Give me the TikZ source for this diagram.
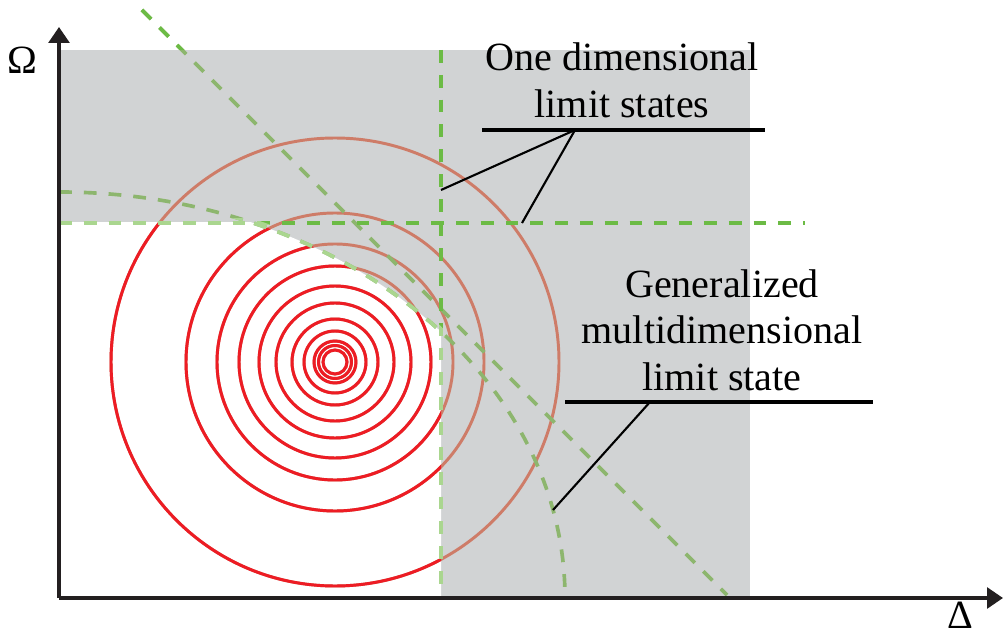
\documentclass[tikz,border=0pt]{standalone}
\usepackage{fontspec}
\setmainfont{Liberation Serif}
\usepackage{tikz}
\usetikzlibrary{arrows.meta,positioning,calc}
\definecolor{axisblack}{HTML}{231F20}
\definecolor{zonegray}{HTML}{D1D3D4}
\definecolor{ringred}{HTML}{ED1C24}
\definecolor{ringshade}{HTML}{CE7C68}
\definecolor{limgreen}{HTML}{6CBB45}
\definecolor{limpale}{HTML}{AAD68F}
\definecolor{limdull}{HTML}{8DB66E}
\tikzset{
  % Axes
  axis/.style={draw=axisblack,line width=2.5pt,
               -{Triangle[length=0.4cm,width=0.52cm]}},
  % Density rings
  isoline/.style={draw=ringred,line width=2.1pt},
  % Limit state lines
  lim/.style={draw=limgreen,line width=2.6pt,dash pattern=on 0.32cm off 0.3cm},
  limdim/.style={lim,draw=limdull},
  limlight/.style={lim,draw=limpale},
  % Leaders & labels
  rule/.style={draw=black,line width=2.3pt},
  leader/.style={draw=black,line width=1.5pt},
  lbl/.style={font=\fontsize{28.5}{33}\selectfont,inner sep=0pt,align=center}
}

\begin{document}
\begin{tikzpicture}[x=0.025cm,y=-0.025cm]
  \useasboundingbox (0,0) rectangle (1003,635);
  \coordinate (origin) at (59,598);
  \coordinate (centre) at (335,362);

  % Failure zone, safe corner cut out
  \fill[zonegray] (59,50) rectangle (750,598);
  \begin{scope}
    \clip (59,223) rectangle (441,598);
    \fill[white] (origin) ellipse[x radius=506,y radius=406];
  \end{scope}

  % Density rings (shaded where they lie in the failure zone)
  \foreach \r in {12,16.5,21,31,43,59,76,96,118,149,224}
    \draw[isoline,draw=ringshade] (centre) circle[radius=\r];
  \begin{scope}
    \clip (59,223) rectangle (441,598);
    \clip (origin) ellipse[x radius=506,y radius=406];
    \foreach \r in {12,16.5,21,31,43,59,76,96,118,149,224}
      \draw[isoline] (centre) circle[radius=\r];
  \end{scope}

  % Generalized limit state and the diagonal
  \draw[limdim] (59,192) arc[start angle=-90,end angle=0,x radius=506,y radius=406];
  \draw[limdim] (142,10) -- (727,595);
  \begin{scope}
    \clip (100,0) rectangle (300,50);
    \draw[lim] (142,10) -- (727,595);
  \end{scope}

  % One dimensional limit states
  \draw[lim] (59,223) -- (805,223);
  \draw[lim] (441,50) -- (441,598);
  \begin{scope}
    \clip (55,219) rectangle (445,602);
    \clip (origin) ellipse[x radius=510,y radius=410];
    \draw[limlight] (59,223) -- (805,223);
    \draw[limlight] (441,50) -- (441,598);
    \draw[limlight] (59,192) arc[start angle=-90,end angle=0,x radius=506,y radius=406];
  \end{scope}

  % Axes
  \draw[axis] (origin) -- (1003,598);
  \draw[axis] (origin) -- (59,27);
  \node[lbl] (omega) at (22,60) {Ω};
  \node[lbl] (delta) at (960,615) {Δ};

  % Labels
  \node[lbl,anchor=south] (oneLbl) at (622,118) {One dimensional\\limit states};
  \node[lbl,anchor=south] (genLbl) at (722,391) {Generalized\\multidimensional\\limit state};

  \coordinate (oneL) at (482,130);
  \coordinate (oneR) at (765,130);
  \coordinate (oneHub) at (575,130);
  \coordinate (vHit) at (441,190);
  \coordinate (hHit) at (522,223);
  \coordinate (genL) at (565,402);
  \coordinate (genR) at (873,402);
  \coordinate (genHub) at (650,402);
  \coordinate (gHit) at (553,510);

  \draw[rule] (oneL) -- (oneR);
  \draw[leader] (oneHub) -- (vHit);
  \draw[leader] (oneHub) -- (hHit);
  \draw[rule] (genL) -- (genR);
  \draw[leader] (genHub) -- (gHit);
\end{tikzpicture}
\end{document}
